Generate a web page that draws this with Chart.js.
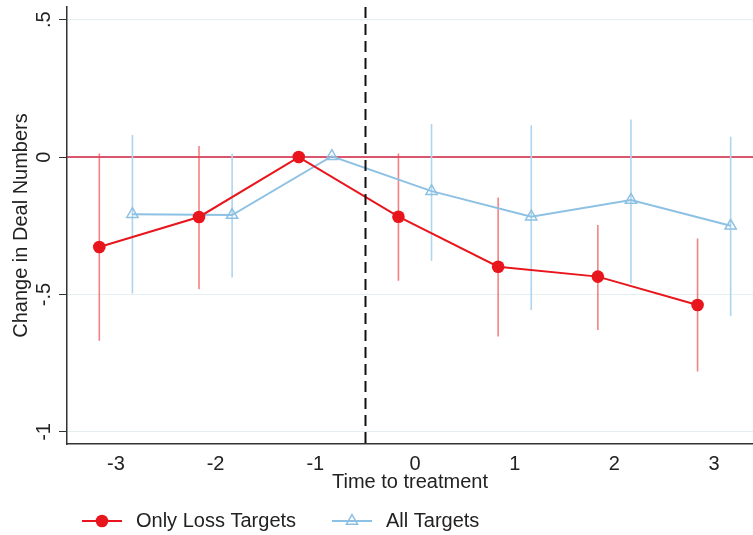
<!DOCTYPE html>
<html>
<head>
<meta charset="utf-8">
<script src="https://cdn.jsdelivr.net/npm/chart.js@4.4.1/dist/chart.umd.min.js"></script>
<style>
  html, body { margin: 0; padding: 0; background: #fff; }
  #wrap { width: 753px; height: 535px; position: relative; }
</style>
</head>
<body>
<div id="wrap"><canvas id="c"></canvas></div>
<script>
// event-study estimates
const periods = [-3, -2, -1, 0, 1, 2, 3];
const lossCoef = [-0.327, -0.218, 0, -0.217, -0.399, -0.435, -0.538];
const lossLow  = [-0.668, -0.481, null, -0.45, -0.653, -0.629, -0.78];
const lossHigh = [0.013, 0.04, null, 0.013, -0.147, -0.247, -0.296];
const allCoef  = [-0.208, -0.211, 0.003, -0.124, -0.217, -0.156, -0.25];
const allLow   = [-0.496, -0.438, null, -0.377, -0.556, -0.46, -0.578];
const allHigh  = [0.08, 0.013, null, 0.12, 0.116, 0.137, 0.074];
const yTicks = [-1, -0.5, 0, 0.5];
const yTickLabels = ['-1', '-.5', '0', '.5'];
const seriesNames = ['Only Loss Targets', 'All Targets'];
const treatAt = -0.5;

const RED = '#e8161c', RED_CI = 'rgba(238,72,72,0.68)';
const BLUE = '#8dc1e4', BLUE_CI = '#aed5ee';
const FONT = "'Liberation Sans', Arial, sans-serif";
const shift = 0.166; // Stata-style horizontal offset of the two series

function pts(vals, dx) {
  return periods.map((p, i) => ({x: p + dx, y: vals[i]}));
}
function spikes(lo, hi, dx) {
  const out = [];
  periods.forEach((p, i) => {
    if (lo[i] == null) return;
    out.push({x: p + dx, y: lo[i]}, {x: p + dx, y: hi[i]}, {x: p + dx, y: null});
  });
  return out;
}

const extras = {
  id: 'extras',
  beforeDatasetsDraw(chart) {
    const {ctx, chartArea: a, scales: {y}} = chart;
    const y0 = y.getPixelForValue(0);
    ctx.save();
    ctx.strokeStyle = '#d2213f';
    ctx.lineWidth = 1.6;
    ctx.beginPath(); ctx.moveTo(a.left, y0); ctx.lineTo(a.right, y0); ctx.stroke();
    ctx.restore();
  },
  afterDatasetsDraw(chart) {
    const {ctx, chartArea: a, scales: {x}} = chart;
    const xt = Math.round(x.getPixelForValue(treatAt)) + 0.5;
    ctx.save();
    ctx.strokeStyle = '#111';
    ctx.lineWidth = 2;
    ctx.setLineDash([11, 6]);
    ctx.beginPath(); ctx.moveTo(xt, a.top); ctx.lineTo(xt, a.bottom); ctx.stroke();
    ctx.restore();
  },
  afterDraw(chart) {
    const {ctx, scales: {y}} = chart;
    ctx.save();
    // rotated y tick labels
    ctx.fillStyle = '#222';
    ctx.font = '20px ' + FONT;
    ctx.textAlign = 'center';
    ctx.textBaseline = 'middle';
    yTicks.forEach((v, i) => {
      ctx.save();
      ctx.translate(44, y.getPixelForValue(v));
      ctx.rotate(-Math.PI / 2);
      ctx.fillText(yTickLabels[i], 0, 0);
      ctx.restore();
    });
    // legend
    const ly = 521;
    const items = [
      {x: 82, color: RED, style: 'circle', r: 6.3, fill: RED, bw: 0},
      {x: 332, color: BLUE, style: 'triangle', r: 6.5, fill: 'rgba(0,0,0,0)', bw: 1.5}
    ];
    items.forEach((it, i) => {
      ctx.strokeStyle = it.color;
      ctx.lineWidth = 2;
      ctx.beginPath(); ctx.moveTo(it.x, ly); ctx.lineTo(it.x + 40, ly); ctx.stroke();
      ctx.fillStyle = it.fill;
      ctx.strokeStyle = it.color;
      ctx.lineWidth = it.bw;
      Chart.helpers.drawPoint(ctx, {pointStyle: it.style, radius: it.r, rotation: 0, borderWidth: it.bw}, it.x + 20, ly);
      ctx.fillStyle = '#222';
      ctx.textAlign = 'left';
      ctx.fillText(seriesNames[i], it.x + 54, ly);
    });
    ctx.restore();
  }
};

new Chart(document.getElementById('c'), {
  type: 'scatter',
  data: {
    datasets: [
      {
        label: seriesNames[0],
        data: pts(lossCoef, -shift),
        showLine: true,
        borderColor: RED,
        borderWidth: 2,
        pointRadius: 6.3,
        pointBackgroundColor: RED,
        pointBorderWidth: 0
      },
      {
        label: seriesNames[1],
        data: pts(allCoef, shift),
        showLine: true,
        borderColor: BLUE,
        borderWidth: 2,
        pointStyle: 'triangle',
        pointRadius: 6.5,
        pointBackgroundColor: 'rgba(255,255,255,0)',
        pointBorderColor: BLUE,
        pointBorderWidth: 1.5
      },
      {
        label: 'loss CI',
        data: spikes(lossLow, lossHigh, -shift),
        showLine: true,
        spanGaps: false,
        borderColor: RED_CI,
        borderWidth: 1.6,
        pointRadius: 0
      },
      {
        label: 'all CI',
        data: spikes(allLow, allHigh, shift),
        showLine: true,
        spanGaps: false,
        borderColor: BLUE_CI,
        borderWidth: 1.6,
        pointRadius: 0
      }
    ]
  },
  options: {
    responsive: true,
    maintainAspectRatio: false,
    animation: false,
    layout: {autoPadding: false, padding: {left: 0, right: 0, top: 7, bottom: 41}},
    plugins: {legend: {display: false}, tooltip: {enabled: false}},
    scales: {
      x: {
        type: 'linear',
        min: -3.49,
        max: 3.39,
        afterBuildTicks: s => { s.ticks = periods.map(v => ({value: v})); },
        afterFit: s => { s.height = 50; },
        grid: {drawOnChartArea: false, drawTicks: false},
        border: {display: true, color: '#333', width: 1.5},
        ticks: {color: '#222', font: {family: FONT, size: 20}, padding: 8, maxRotation: 0,
                callback: v => String(v)},
        title: {display: true, text: 'Time to treatment', color: '#222',
                font: {family: FONT, size: 20}, padding: {top: 0, bottom: 0}}
      },
      y: {
        min: -1.044,
        max: 0.546,
        afterBuildTicks: s => { s.ticks = yTicks.map(v => ({value: v})); },
        afterFit: s => { s.width = 67; },
        grid: {color: '#e6eff1', lineWidth: 1, drawTicks: true, tickLength: 8, tickColor: '#333'},
        border: {display: true, color: '#333', width: 1.5},
        ticks: {display: false},
        title: {display: true, text: 'Change in Deal Numbers', color: '#222',
                font: {family: FONT, size: 20}, padding: {top: 9, bottom: 0}}
      }
    }
  },
  plugins: [extras]
});
</script>
</body>
</html>
